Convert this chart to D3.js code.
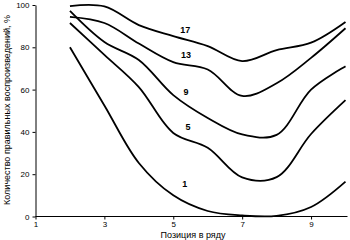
<!DOCTYPE html>
<meta charset="utf-8">
<title>chart</title>
<style>
body {
  margin: 0;
  background-color: white;
  font-family: 'Liberation Sans', Arial, sans-serif;
}
.axis text { font-size: 8px; fill: #000; }
.axis path, .axis line { stroke: #000; }
.series { fill: none; stroke: #000; stroke-width: 1.8px; }
.lbl { font-size: 9px; font-weight: bold; text-anchor: middle; }
.title { font-size: 9px; }
</style>
<svg width="350" height="240"></svg>
<script src="https://d3js.org/d3.v7.min.js"></script>
<script>
var positions = [2, 3, 4, 5, 6, 7, 8, 9, 10];

var series = [
  { name: "17", values: [99.5, 99.3, 90.5, 85.3, 80.6, 73.5, 78.7, 82.2, 92] },
  { name: "13", values: [94.4, 91.5, 81.8, 73, 69.5, 57, 63, 75, 89] },
  { name: "9",  values: [97.2, 82.5, 74, 57.4, 46.6, 38.8, 38.6, 60, 71] },
  { name: "5",  values: [91.5, 76.4, 61.2, 39.5, 32.5, 18.5, 18.6, 39, 55] },
  { name: "1",  values: [80, 52.5, 25.3, 10, 2.6, 0.5, 0.3, 4.5, 16.5] }
];

// where each curve's number sits, in data units
var labelPos = [
  { name: "17", x: 5.35, y: 88.4 },
  { name: "13", x: 5.37, y: 76.3 },
  { name: "9",  x: 5.37, y: 59 },
  { name: "5",  x: 5.43, y: 42.3 },
  { name: "1",  x: 5.33, y: 15.3 }
];

var xTicks = [1, 3, 5, 7, 9],
    yTicks = [0, 20, 40, 60, 80, 100];

var xTitle = "Позиция в ряду",
    yTitle = "Количество правильных воспроизведений, %";

var svg = d3.select("svg");

var x = d3.scaleLinear().domain([1, 10]).range([35.5, 345.5]);
var y = d3.scaleLinear().domain([0, 100]).range([216.5, 5]);

svg.append("g")
    .attr("class", "axis")
    .attr("transform", "translate(0," + y(0) + ")")
    .call(d3.axisBottom(x).tickValues(xTicks).tickSize(3).tickSizeOuter(0).tickPadding(2))
    .call(function(g) { g.select(".domain").attr("d", "M" + x(1) + ",0H" + (x(10) + 2)); });

svg.append("g")
    .attr("class", "axis")
    .attr("transform", "translate(" + x(1) + ",0)")
    .call(d3.axisLeft(y).tickValues(yTicks).tickSize(3).tickSizeOuter(0).tickPadding(3));

var line = d3.line()
    .x(function(d, i) { return x(positions[i]); })
    .y(function(d) { return y(d); })
    .curve(d3.curveCatmullRom.alpha(0.5));

svg.selectAll("path.series")
  .data(series)
  .enter().append("path")
    .attr("class", "series")
    .attr("d", function(s) { return line(s.values); });

svg.selectAll("text.lbl")
  .data(labelPos)
  .enter().append("text")
    .attr("class", "lbl")
    .attr("x", function(d) { return x(d.x); })
    .attr("y", function(d) { return y(d.y); })
    .attr("dy", "0.35em")
    .text(function(d) { return d.name; });

svg.append("text")
    .attr("class", "title")
    .attr("x", 193)
    .attr("y", 238)
    .attr("text-anchor", "middle")
    .text(xTitle);

svg.append("text")
    .attr("class", "title")
    .attr("transform", "translate(10,110) rotate(-90)")
    .attr("text-anchor", "middle")
    .text(yTitle);
</script>
